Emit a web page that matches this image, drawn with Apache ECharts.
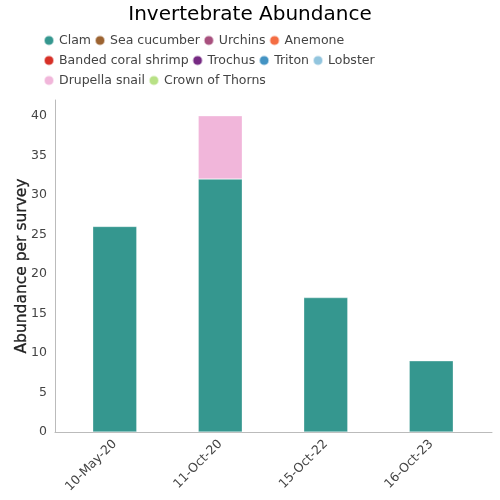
<!DOCTYPE html>
<html><head><meta charset="utf-8">
<script src="https://cdn.jsdelivr.net/npm/echarts@6/dist/echarts.min.js"></script>
<style>html,body{margin:0;padding:0;background:#fff}#c{width:500px;height:500px}</style>
</head><body><div id="c"></div>
<script>
const categories = ['10-May-20', '11-Oct-20', '15-Oct-22', '16-Oct-23'];
const seriesNames = ['Clam', 'Sea cucumber', 'Urchins', 'Anemone', 'Banded coral shrimp', 'Trochus', 'Triton', 'Lobster', 'Drupella snail', 'Crown of Thorns'];
const seriesColors = ['#35978f', '#9c6331', '#a8507e', '#f46d43', '#d73027', '#762a83', '#4393c3', '#92c5de', '#f1b6da', '#b8e186'];
const clam = [26, 32, 17, 9];
const seaCucumber = [0, 0, 0, 0];
const urchins = [0, 0, 0, 0];
const anemone = [0, 0, 0, 0];
const bandedCoralShrimp = [0, 0, 0, 0];
const trochus = [0, 0, 0, 0];
const triton = [0, 0, 0, 0];
const lobster = [0, 0, 0, 0];
const drupellaSnail = [0, 8, 0, 0];
const crownOfThorns = [0, 0, 0, 0];
const yTicks = [0, 5, 10, 15, 20, 25, 30, 35, 40];

const allValues = [clam, seaCucumber, urchins, anemone, bandedCoralShrimp, trochus, triton, lobster, drupellaSnail, crownOfThorns];
const font = 'DejaVu Sans';
const yMax = 42;
const chart = echarts.init(document.getElementById('c'));
chart.setOption({
  animation: false,
  title: { text: 'Invertebrate Abundance', left: 'center', top: 0, textStyle: { fontSize: 20, fontWeight: 'normal', color: '#000', fontFamily: font } },
  legend: {
    left: 38, top: 27, width: 345, itemGap: 3, itemWidth: 10, itemHeight: 10, icon: 'circle',
    textStyle: { fontSize: 12.5, color: '#444', fontFamily: font, lineHeight: 17 },
    data: seriesNames
  },
  grid: [
    { left: 55, right: 8, top: 100, bottom: 68, outerBoundsMode: 'none', containLabel: false },
    { left: 62, right: 16, top: 100, bottom: 68, outerBoundsMode: 'none', containLabel: false }
  ],
  xAxis: [
    { type: 'category', gridIndex: 0, data: categories,
      axisLine: { lineStyle: { color: '#bbb' } }, axisTick: { show: false }, axisLabel: { show: false } },
    { type: 'category', gridIndex: 1, data: categories,
      axisLine: { show: false }, axisTick: { show: false },
      axisLabel: { rotate: 45, fontSize: 12.5, color: '#444', fontFamily: font, margin: 10 } }
  ],
  yAxis: [
    { type: 'value', gridIndex: 0, min: 0, max: yMax, interval: 5,
      name: 'Abundance per survey', nameLocation: 'middle', nameGap: 25, nameMoveOverlap: false,
      nameTextStyle: { fontSize: 15.5, fontWeight: 'normal', color: '#222', fontFamily: font, textBorderColor: '#222', textBorderWidth: 0.3 },
      axisLine: { show: true, lineStyle: { color: '#bbb' } }, axisTick: { show: false },
      splitLine: { show: false },
      axisLabel: { fontSize: 12.5, color: '#444', fontFamily: font, margin: 8,
        formatter: v => yTicks.includes(v) ? String(v) : '', showMaxLabel: false } },
    { type: 'value', gridIndex: 1, min: 0, max: yMax, interval: 5, show: false }
  ],
  series: seriesNames.map((n, i) => ({
    name: n, type: 'bar', stack: 'a', xAxisIndex: 1, yAxisIndex: 1, barWidth: 44,
    itemStyle: { color: seriesColors[i], borderColor: 'rgba(255,255,255,0.6)', borderWidth: 0.5 },
    data: allValues[i].map(v => v === 0 ? null : v)
  }))
});
</script></body></html>
